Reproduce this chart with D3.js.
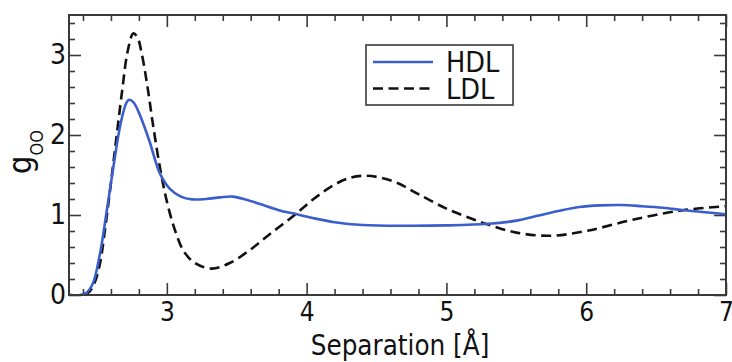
<!DOCTYPE html>
<html>
<head>
<meta charset="utf-8">
<script src="https://cdn.jsdelivr.net/npm/d3@7"></script>
<style>
  html, body { margin: 0; padding: 0; background: #fff; }
  svg { display: block; }
  text { font-family: "DejaVu Sans Condensed", "DejaVu Sans", sans-serif; font-stretch: condensed; fill: #111; }
</style>
</head>
<body>
<svg id="chart" width="732" height="362"></svg>
<script>
// O–O radial distribution functions for high- and low-density liquid water
const hdlR = [2.30, 2.38, 2.42, 2.47, 2.52, 2.57, 2.62, 2.67, 2.71, 2.73, 2.76, 2.80, 2.84, 2.88, 2.95, 3.02, 3.10, 3.18, 3.28, 3.38, 3.47, 3.57, 3.68, 3.80, 3.93, 4.05, 4.20, 4.40, 4.70, 5.00, 5.30, 5.50, 5.65, 5.80, 5.95, 6.10, 6.25, 6.40, 6.55, 6.70, 6.85, 7.00];
const hdlG = [0.00, 0.00, 0.02, 0.14, 0.50, 1.05, 1.63, 2.15, 2.40, 2.44, 2.41, 2.28, 2.10, 1.90, 1.52, 1.33, 1.23, 1.195, 1.20, 1.22, 1.23, 1.19, 1.13, 1.06, 1.01, 0.96, 0.91, 0.875, 0.865, 0.87, 0.89, 0.93, 0.99, 1.05, 1.10, 1.12, 1.125, 1.11, 1.09, 1.06, 1.035, 1.01];

const ldlR = [2.30, 2.40, 2.44, 2.48, 2.52, 2.56, 2.60, 2.64, 2.68, 2.72, 2.76, 2.79, 2.82, 2.86, 2.90, 2.95, 3.00, 3.06, 3.12, 3.20, 3.32, 3.45, 3.60, 3.75, 3.90, 4.05, 4.20, 4.32, 4.42, 4.52, 4.65, 4.80, 5.00, 5.20, 5.30, 5.50, 5.74, 6.00, 6.33, 6.69, 7.00];
const ldlG = [0.00, 0.00, 0.03, 0.14, 0.38, 0.85, 1.40, 1.98, 2.55, 3.05, 3.27, 3.22, 3.02, 2.62, 2.14, 1.60, 1.17, 0.80, 0.55, 0.40, 0.33, 0.40, 0.57, 0.78, 0.98, 1.20, 1.38, 1.47, 1.49, 1.47, 1.40, 1.26, 1.08, 0.94, 0.88, 0.78, 0.74, 0.80, 0.94, 1.06, 1.11];

const xMajor = [3, 4, 5, 6, 7];
const yMajor = [0, 1, 2, 3];
const seriesNames = ["HDL", "LDL"];

const svg = d3.select("#chart");
const plot = { left: 69, right: 726, top: 15, bottom: 295 };

const x = d3.scaleLinear().domain([2.3, 7]).range([plot.left, plot.right]);
const y = d3.scaleLinear().domain([0, 3.5]).range([plot.bottom, plot.top]);

const xMinor = d3.range(2.4, 7.0001, 0.2).filter(v => !xMajor.some(m => Math.abs(m - v) < 1e-6));
const yMinor = d3.range(0.2, 3.5, 0.2).filter(v => !yMajor.some(m => Math.abs(m - v) < 1e-6));

const frameColor = "#3a3a3a";

// minor ticks on all four sides, pointing inward
function styleAxis(g) {
  g.select(".domain").remove();
  g.selectAll(".tick line").attr("stroke", frameColor).attr("stroke-width", 1.6);
}
svg.append("g").attr("transform", `translate(0,${plot.bottom})`)
  .call(d3.axisBottom(x).tickValues(xMinor).tickSize(-6).tickFormat("")).call(styleAxis);
svg.append("g").attr("transform", `translate(0,${plot.top})`)
  .call(d3.axisTop(x).tickValues(xMinor).tickSize(-6).tickFormat("")).call(styleAxis);
svg.append("g").attr("transform", `translate(${plot.left},0)`)
  .call(d3.axisLeft(y).tickValues(yMinor).tickSize(-6).tickFormat("")).call(styleAxis);
svg.append("g").attr("transform", `translate(${plot.right},0)`)
  .call(d3.axisRight(y).tickValues(yMinor).tickSize(-6).tickFormat("")).call(styleAxis);

// major ticks with labels on bottom and left
const xAxis = svg.append("g").attr("transform", `translate(0,${plot.bottom})`)
  .call(d3.axisBottom(x).tickValues(xMajor).tickSize(-12).tickPadding(8).tickFormat(d3.format("d")));
xAxis.call(styleAxis);
xAxis.selectAll("text").attr("font-size", 26).attr("fill", "#111");

const yAxis = svg.append("g").attr("transform", `translate(${plot.left},0)`)
  .call(d3.axisLeft(y).tickValues(yMajor).tickSize(-12).tickPadding(3).tickFormat(d3.format("d")));
yAxis.call(styleAxis);
yAxis.selectAll("text").attr("font-size", 28).attr("fill", "#111");

svg.append("g").attr("transform", `translate(0,${plot.top})`)
  .call(d3.axisTop(x).tickValues(xMajor).tickSize(-12).tickFormat("")).call(styleAxis);
svg.append("g").attr("transform", `translate(${plot.right},0)`)
  .call(d3.axisRight(y).tickValues(yMajor).tickSize(-12).tickFormat("")).call(styleAxis);

// curves
const line = d3.line().curve(d3.curveCatmullRom.alpha(0.5));
const hdlPts = hdlR.map((r, i) => [x(r), y(hdlG[i])]);
const ldlPts = ldlR.map((r, i) => [x(r), y(ldlG[i])]);

svg.append("clipPath").attr("id", "plotclip").append("rect")
  .attr("x", plot.left).attr("y", plot.top)
  .attr("width", plot.right - plot.left).attr("height", plot.bottom - plot.top);

const curves = svg.append("g").attr("clip-path", "url(#plotclip)");
curves.append("path").attr("d", line(ldlPts))
  .attr("fill", "none").attr("stroke", "#111").attr("stroke-width", 2.6)
  .attr("stroke-dasharray", "10,5.5");
curves.append("path").attr("d", line(hdlPts))
  .attr("fill", "none").attr("stroke", "#3a5fcd").attr("stroke-width", 2.6);

// frame
svg.append("rect")
  .attr("x", plot.left).attr("y", plot.top)
  .attr("width", plot.right - plot.left).attr("height", plot.bottom - plot.top)
  .attr("fill", "none").attr("stroke", frameColor).attr("stroke-width", 2);

// legend
const legend = svg.append("g");
legend.append("rect").attr("x", 366).attr("y", 45).attr("width", 147).attr("height", 60)
  .attr("fill", "#fff").attr("stroke", frameColor).attr("stroke-width", 1.6);
const legendStyles = [
  { stroke: "#3a5fcd", dash: null },
  { stroke: "#111", dash: "10,5.5" }
];
seriesNames.forEach((name, i) => {
  const cy = 62 + i * 26.5;
  legend.append("line").attr("x1", 373).attr("x2", 433).attr("y1", cy).attr("y2", cy)
    .attr("stroke", legendStyles[i].stroke).attr("stroke-width", 2.6)
    .attr("stroke-dasharray", legendStyles[i].dash);
  legend.append("text").attr("x", 446).attr("y", cy + 10).attr("font-size", 28.5).text(name);
});

// axis titles
svg.append("text").attr("x", 400).attr("y", 355).attr("text-anchor", "middle")
  .attr("font-size", 27.5).text("Separation [Å]");

const yTitle = svg.append("text").attr("transform", "translate(31,152) rotate(-90)")
  .attr("text-anchor", "middle").attr("font-size", 32);
yTitle.append("tspan").text("g");
yTitle.append("tspan").attr("font-size", 18).attr("dy", 12).text("OO");
</script>
</body>
</html>
